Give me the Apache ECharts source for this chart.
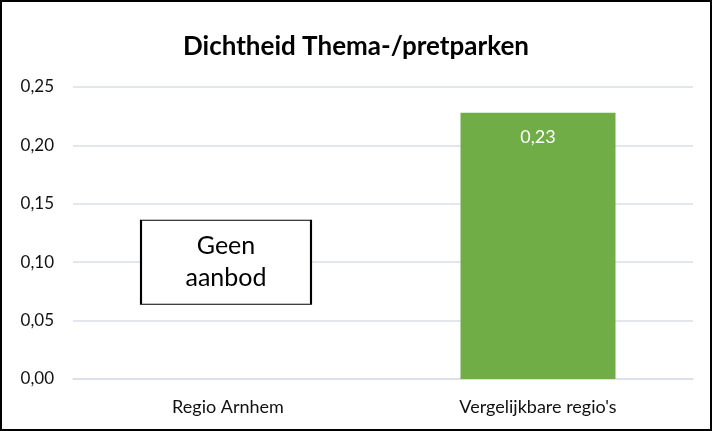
<!DOCTYPE html>
<html>
<head>
<meta charset="utf-8">
<script src="https://cdn.jsdelivr.net/npm/echarts@6/dist/echarts.min.js"></script>
<style>
  html, body { margin: 0; padding: 0; background: #fff; }
  #frame { width: 712px; height: 431px; box-sizing: border-box; border: 2px solid #000; }
  #chart { width: 100%; height: 100%; }
</style>
</head>
<body>
<div id="frame"><div id="chart"></div></div>
<script>
// data
const categories = ['Regio Arnhem', "Vergelijkbare regio's"];
const dichtheid = [null, 0.228];
const noteText = ['Geen', 'aanbod'];
const notePos = [['Regio Arnhem', 0.10]];
const yTicks = { min: 0, max: 0.25, interval: 0.05 };

const font = 'Lato, "Open Sans", sans-serif';
const comma = (v, d) => v.toFixed(d).replace('.', ',');

const chart = echarts.init(document.getElementById('chart'));
chart.setOption({
  animation: false,
  textStyle: { fontFamily: font },
  title: {
    text: 'Dichtheid Thema-/pretparken',
    left: 'center',
    top: 27,
    textStyle: { fontFamily: font, fontSize: 26, fontWeight: 'bold', color: '#000' }
  },
  grid: { left: 71, right: 17, top: 85, bottom: 50 },
  xAxis: {
    type: 'category',
    data: categories,
    axisLine: { show: true, lineStyle: { color: '#dadee6', width: 1.5 } },
    axisTick: { show: false },
    axisLabel: { color: '#111', fontSize: 18, margin: 19, fontFamily: font }
  },
  yAxis: {
    type: 'value',
    min: yTicks.min,
    max: yTicks.max,
    interval: yTicks.interval,
    axisLine: { show: false },
    axisTick: { show: false },
    axisLabel: { color: '#111', fontSize: 17, margin: 19, fontFamily: font, formatter: v => comma(v, 2) },
    splitLine: { lineStyle: { color: '#dadee6', width: 1.5 } }
  },
  series: [
    {
      type: 'bar',
      data: dichtheid,
      barWidth: '50%',
      itemStyle: { color: '#70ad47' },
      label: {
        show: true,
        position: 'insideTop',
        distance: 15,
        color: '#fff',
        fontSize: 18,
        fontFamily: font,
        formatter: p => comma(p.value, 2)
      }
    },
    {
      type: 'scatter',
      data: notePos,
      symbol: 'rect',
      symbolSize: [170, 84],
      symbolOffset: [-2, 0],
      itemStyle: { color: '#fff', borderColor: '#000', borderWidth: 1.5, opacity: 1 },
      label: {
        show: true,
        position: 'inside',
        color: '#000',
        fontSize: 25,
        lineHeight: 32,
        fontFamily: font,
        formatter: noteText.join('\n')
      },
      emphasis: { disabled: true },
      z: 5
    }
  ]
});
</script>
</body>
</html>
